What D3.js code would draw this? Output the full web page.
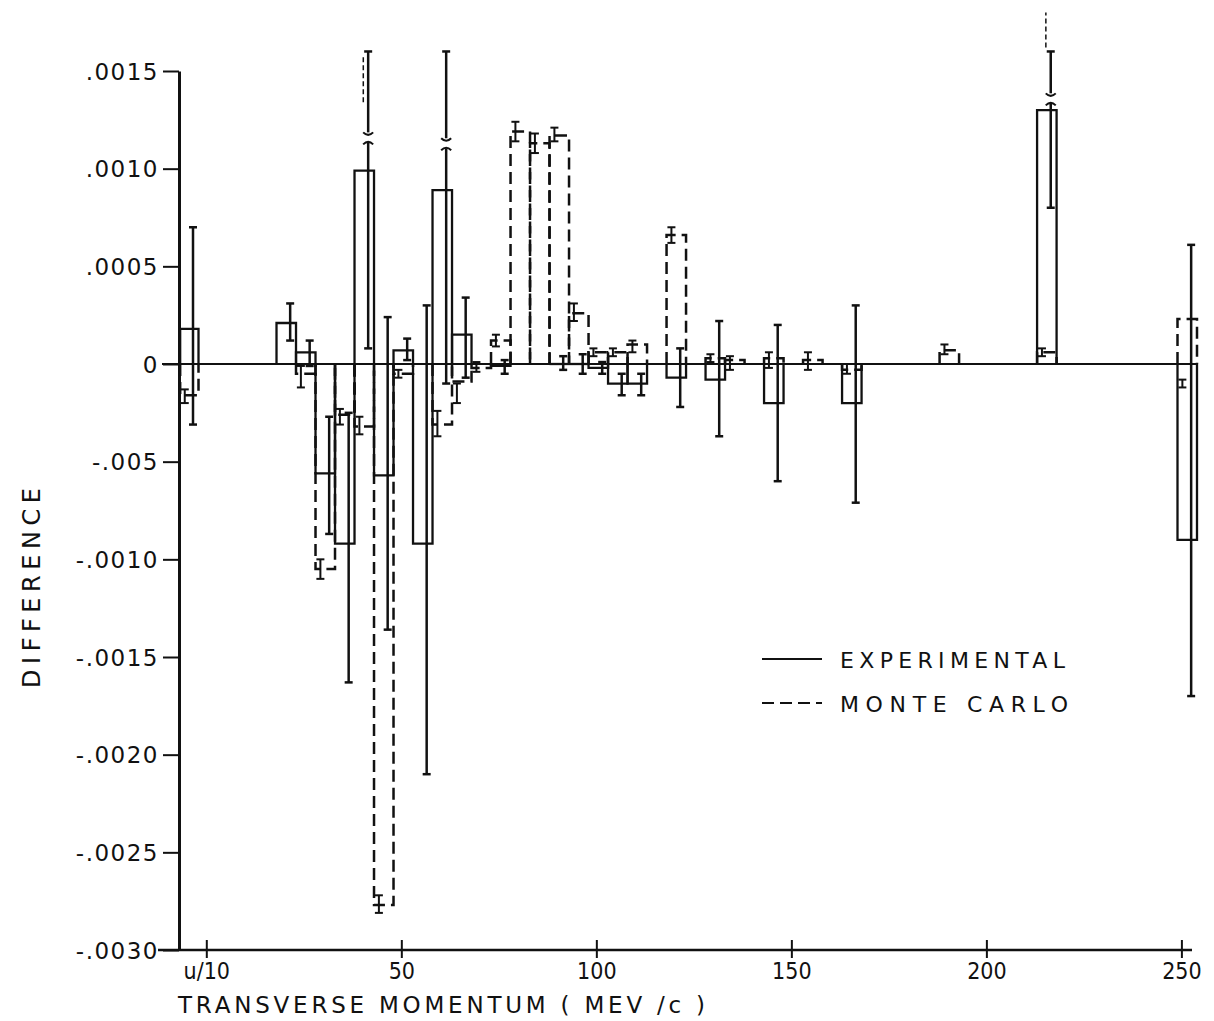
<!DOCTYPE html>
<html>
<head>
<meta charset="utf-8">
<script src="https://cdn.jsdelivr.net/npm/d3@7"></script>
<style>
  body { margin: 0; background: #fff; }
  text { font-family: "DejaVu Sans", sans-serif; fill: #111; }
</style>
</head>
<body>
<div id="chart"></div>
<script>
// bins along transverse momentum (MeV/c); first bin is the u/10 bin
const binStart = [-6.7, 18, 23, 28, 33, 38, 43, 48, 53, 58, 63, 68, 73, 78, 83, 88, 93, 98, 103, 108, 118, 128, 133, 143, 153, 163, 188, 213, 249];
const binEnd   = [-2,   23, 28, 33, 38, 43, 48, 53, 58, 63, 68, 73, 78, 83, 88, 93, 98, 103, 108, 113, 123, 133, 138, 148, 158, 168, 193, 218, 254];

// experimental difference and its error bar
const expValue = [0.00018, 0.00021, 0.00006, -0.00056, -0.00092, 0.00099, -0.00057, 0.00007, -0.00092, 0.00089, 0.00015, null, -0.00001, null, null, 0.0, 0.0, -0.00002, -0.0001, -0.0001, -0.00007, -0.00008, null, -0.0002, null, -0.0002, null, 0.0013, -0.0009];
const expLow   = [-0.00031, 0.00012, -0.00001, -0.00087, -0.00163, 0.00008, -0.00136, 0.00002, -0.0021, -0.0001, -0.00007, null, -0.00005, null, null, -0.00003, -0.00005, -0.00005, -0.00016, -0.00016, -0.00022, -0.00037, null, -0.0006, null, -0.00071, null, 0.0008, -0.0017];
const expHigh  = [0.0007, 0.00031, 0.00012, -0.00027, -0.00025, 0.0016, 0.00024, 0.00013, 0.0003, 0.0016, 0.00034, null, 0.00002, null, null, 0.00004, 0.00005, 0.00001, -0.00005, -0.00005, 0.00008, 0.00022, null, 0.0002, null, 0.0003, null, 0.0016, 0.00061];

// monte carlo difference and its error bar
const mcValue = [-0.00016, null, -0.00005, -0.00105, -0.00026, -0.00032, -0.00277, -0.00005, null, -0.00031, -0.00009, -0.00002, 0.00012, 0.00119, 0.00113, 0.00117, 0.00026, 0.00006, 0.00006, 0.0001, 0.00066, 0.00003, 0.00002, 0.00003, 0.00002, -0.00003, 0.00007, 0.00006, 0.00023];
const mcLow   = [-0.0002, null, -0.00012, -0.0011, -0.00031, -0.00036, -0.00281, -0.00007, null, -0.00037, -0.0002, -0.00004, 0.00009, 0.00114, 0.00108, 0.00114, 0.00022, 0.00004, 0.00004, 0.00006, 0.00062, 0.00001, -0.00003, -0.00002, -0.00003, -0.00005, 0.00005, 0.00004, -0.00012];
const mcHigh  = [-0.00013, null, -0.00001, -0.001, -0.00023, -0.00027, -0.00272, -0.00003, null, -0.00024, -0.0001, 0.00001, 0.00015, 0.00124, 0.00118, 0.00121, 0.00031, 0.00008, 0.00008, 0.00012, 0.0007, 0.00005, 0.00004, 0.00006, 0.00006, 0.0, 0.0001, 0.00008, -0.00008];

// experimental error bars that run off scale are drawn broken
const breakBins  = [5, 9, 27];
const breakValue = [0.00116, 0.00113, 0.00136];

// dotted continuations of the off-scale error bars
const dotBins = [5, 27];
const dotFrom = [0.00134, 0.00162];
const dotTo   = [0.00157, 0.0018];

const yTicks = [0.0015, 0.0010, 0.0005, 0, -0.0005, -0.0010, -0.0015, -0.0020, -0.0025, -0.0030];
const yTickLabels = [".0015", ".0010", ".0005", "0", "-.005", "-.0010", "-.0015", "-.0020", "-.0025", "-.0030"];
const xTicks = [0, 50, 100, 150, 200, 250];
const xTickLabels = ["u/10", "50", "100", "150", "200", "250"];

const width = 1214, height = 1021;

const svg = d3.select("#chart").append("svg")
    .attr("width", width)
    .attr("height", height);

svg.append("rect").attr("width", width).attr("height", height).attr("fill", "#fff");

const x = d3.scaleLinear().domain([-7, 254]).range([179, 1197]);
const y = d3.scaleLinear().domain([-0.003, 0.0015]).range([950, 71]);

// y axis
const yAxis = svg.append("g")
    .attr("transform", "translate(179,0)")
    .call(d3.axisLeft(y).tickValues(yTicks).tickFormat((d, i) => yTickLabels[i]).tickSize(16).tickSizeOuter(0).tickPadding(4));
yAxis.select(".domain").attr("stroke", "#111").attr("stroke-width", 3);
yAxis.selectAll(".tick line").attr("stroke", "#111").attr("stroke-width", 2);
yAxis.selectAll(".tick text")
    .style("font-size", "23px")
    .attr("letter-spacing", "1.5px")
    .attr("dy", "0.36em");

// x axis
const xAxis = svg.append("g")
    .attr("transform", "translate(0,950)")
    .call(d3.axisBottom(x).tickValues(xTicks).tickFormat((d, i) => xTickLabels[i]).tickSize(8).tickSizeOuter(0).tickPadding(5));
xAxis.select(".domain").attr("stroke", "#111").attr("stroke-width", 2.5).attr("d", "M158,0H1192");
xAxis.selectAll(".tick line").attr("stroke", "#111").attr("stroke-width", 2).attr("y1", -10).attr("y2", 8);
xAxis.selectAll(".tick text")
    .style("font-family", "'DejaVu Sans Condensed', 'DejaVu Sans', sans-serif")
    .style("font-size", "23px");

// zero line
svg.append("line")
    .attr("x1", 162).attr("x2", 1197)
    .attr("y1", y(0)).attr("y2", y(0))
    .attr("stroke", "#111").attr("stroke-width", 2);

const bins = binStart.map((s, i) => ({
    i: i, s: s, e: binEnd[i],
    exp: expValue[i], expLo: expLow[i], expHi: expHigh[i],
    mc: mcValue[i], mcLo: mcLow[i], mcHi: mcHigh[i]
}));

function barPath(s, e, v) {
    return `M${x(s)},${y(0)}V${y(v)}H${x(e)}V${y(0)}`;
}

// monte carlo bars (dashed)
svg.append("g").selectAll("path")
    .data(bins.filter(d => d.mc !== null))
    .join("path")
    .attr("d", d => barPath(d.s, d.e, d.mc))
    .attr("fill", "none")
    .attr("stroke", "#111")
    .attr("stroke-width", 2.5)
    .attr("stroke-dasharray", "12,6");

// experimental bars (solid)
svg.append("g").selectAll("path")
    .data(bins.filter(d => d.exp !== null))
    .join("path")
    .attr("d", d => barPath(d.s, d.e, d.exp))
    .attr("fill", "none")
    .attr("stroke", "#111")
    .attr("stroke-width", 2.3);

function errorBar(g, xp, lo, hi, w, brk) {
    const cap = 4;
    const segs = [];
    if (brk === undefined) {
        segs.push([y(lo), y(hi)]);
    } else {
        segs.push([y(lo), y(brk) + 5]);
        segs.push([y(brk) - 5, y(hi)]);
    }
    segs.forEach(sg => {
        g.append("line").attr("x1", xp).attr("x2", xp).attr("y1", sg[0]).attr("y2", sg[1])
            .attr("stroke", "#111").attr("stroke-width", w);
    });
    [y(lo), y(hi)].forEach(yy => {
        g.append("line").attr("x1", xp - cap).attr("x2", xp + cap).attr("y1", yy).attr("y2", yy)
            .attr("stroke", "#111").attr("stroke-width", w);
    });
    if (brk !== undefined) {
        const yb = y(brk);
        g.append("path").attr("d", `M${xp - 5},${yb + 7}Q${xp},${yb + 2} ${xp + 5},${yb + 7}`)
            .attr("fill", "none").attr("stroke", "#111").attr("stroke-width", 2);
        g.append("path").attr("d", `M${xp - 5},${yb - 5}Q${xp},${yb} ${xp + 5},${yb - 5}`)
            .attr("fill", "none").attr("stroke", "#111").attr("stroke-width", 2);
    }
}

const errG = svg.append("g");
bins.forEach(d => {
    if (d.exp !== null) {
        const k = breakBins.indexOf(d.i);
        const xp = x(d.s) + (x(d.e) - x(d.s)) * 0.7;
        errorBar(errG, xp, d.expLo, d.expHi, 2.5, k >= 0 ? breakValue[k] : undefined);
    }
    if (d.mc !== null) {
        const xp = x(d.s) + (x(d.e) - x(d.s)) * 0.25;
        errorBar(errG, xp, d.mcLo, d.mcHi, 2);
    }
});

// dotted continuations
dotBins.forEach((b, k) => {
    const xp = x(binStart[b]) + (x(binEnd[b]) - x(binStart[b])) * 0.45;
    errG.append("line")
        .attr("x1", xp).attr("x2", xp)
        .attr("y1", y(dotFrom[k])).attr("y2", y(dotTo[k]))
        .attr("stroke", "#111").attr("stroke-width", 1.5)
        .attr("stroke-dasharray", "5,3");
});

// axis titles
svg.append("text")
    .attr("transform", "translate(40,588) rotate(-90)")
    .attr("text-anchor", "middle")
    .attr("textLength", 200)
    .attr("lengthAdjust", "spacing")
    .style("font-size", "24px")
    .text("DIFFERENCE");

svg.append("text")
    .attr("x", 178).attr("y", 1013)
    .attr("textLength", 527)
    .attr("lengthAdjust", "spacing")
    .style("font-size", "23px")
    .text("TRANSVERSE  MOMENTUM ( MEV /c )");

// legend
const legend = [
    { label: "EXPERIMENTAL", dash: null, len: 225 },
    { label: "MONTE    CARLO", dash: "12,6", len: 228 }
];
const lg = svg.append("g").attr("transform", "translate(762,659)");
legend.forEach((d, i) => {
    lg.append("line")
        .attr("x1", 0).attr("x2", 60)
        .attr("y1", i * 44).attr("y2", i * 44)
        .attr("stroke", "#111").attr("stroke-width", 2)
        .attr("stroke-dasharray", d.dash);
    lg.append("text")
        .attr("x", 78).attr("y", i * 44 + 9)
        .attr("textLength", d.len)
        .attr("lengthAdjust", "spacing")
        .style("font-size", "22px")
        .text(d.label);
});
</script>
</body>
</html>
